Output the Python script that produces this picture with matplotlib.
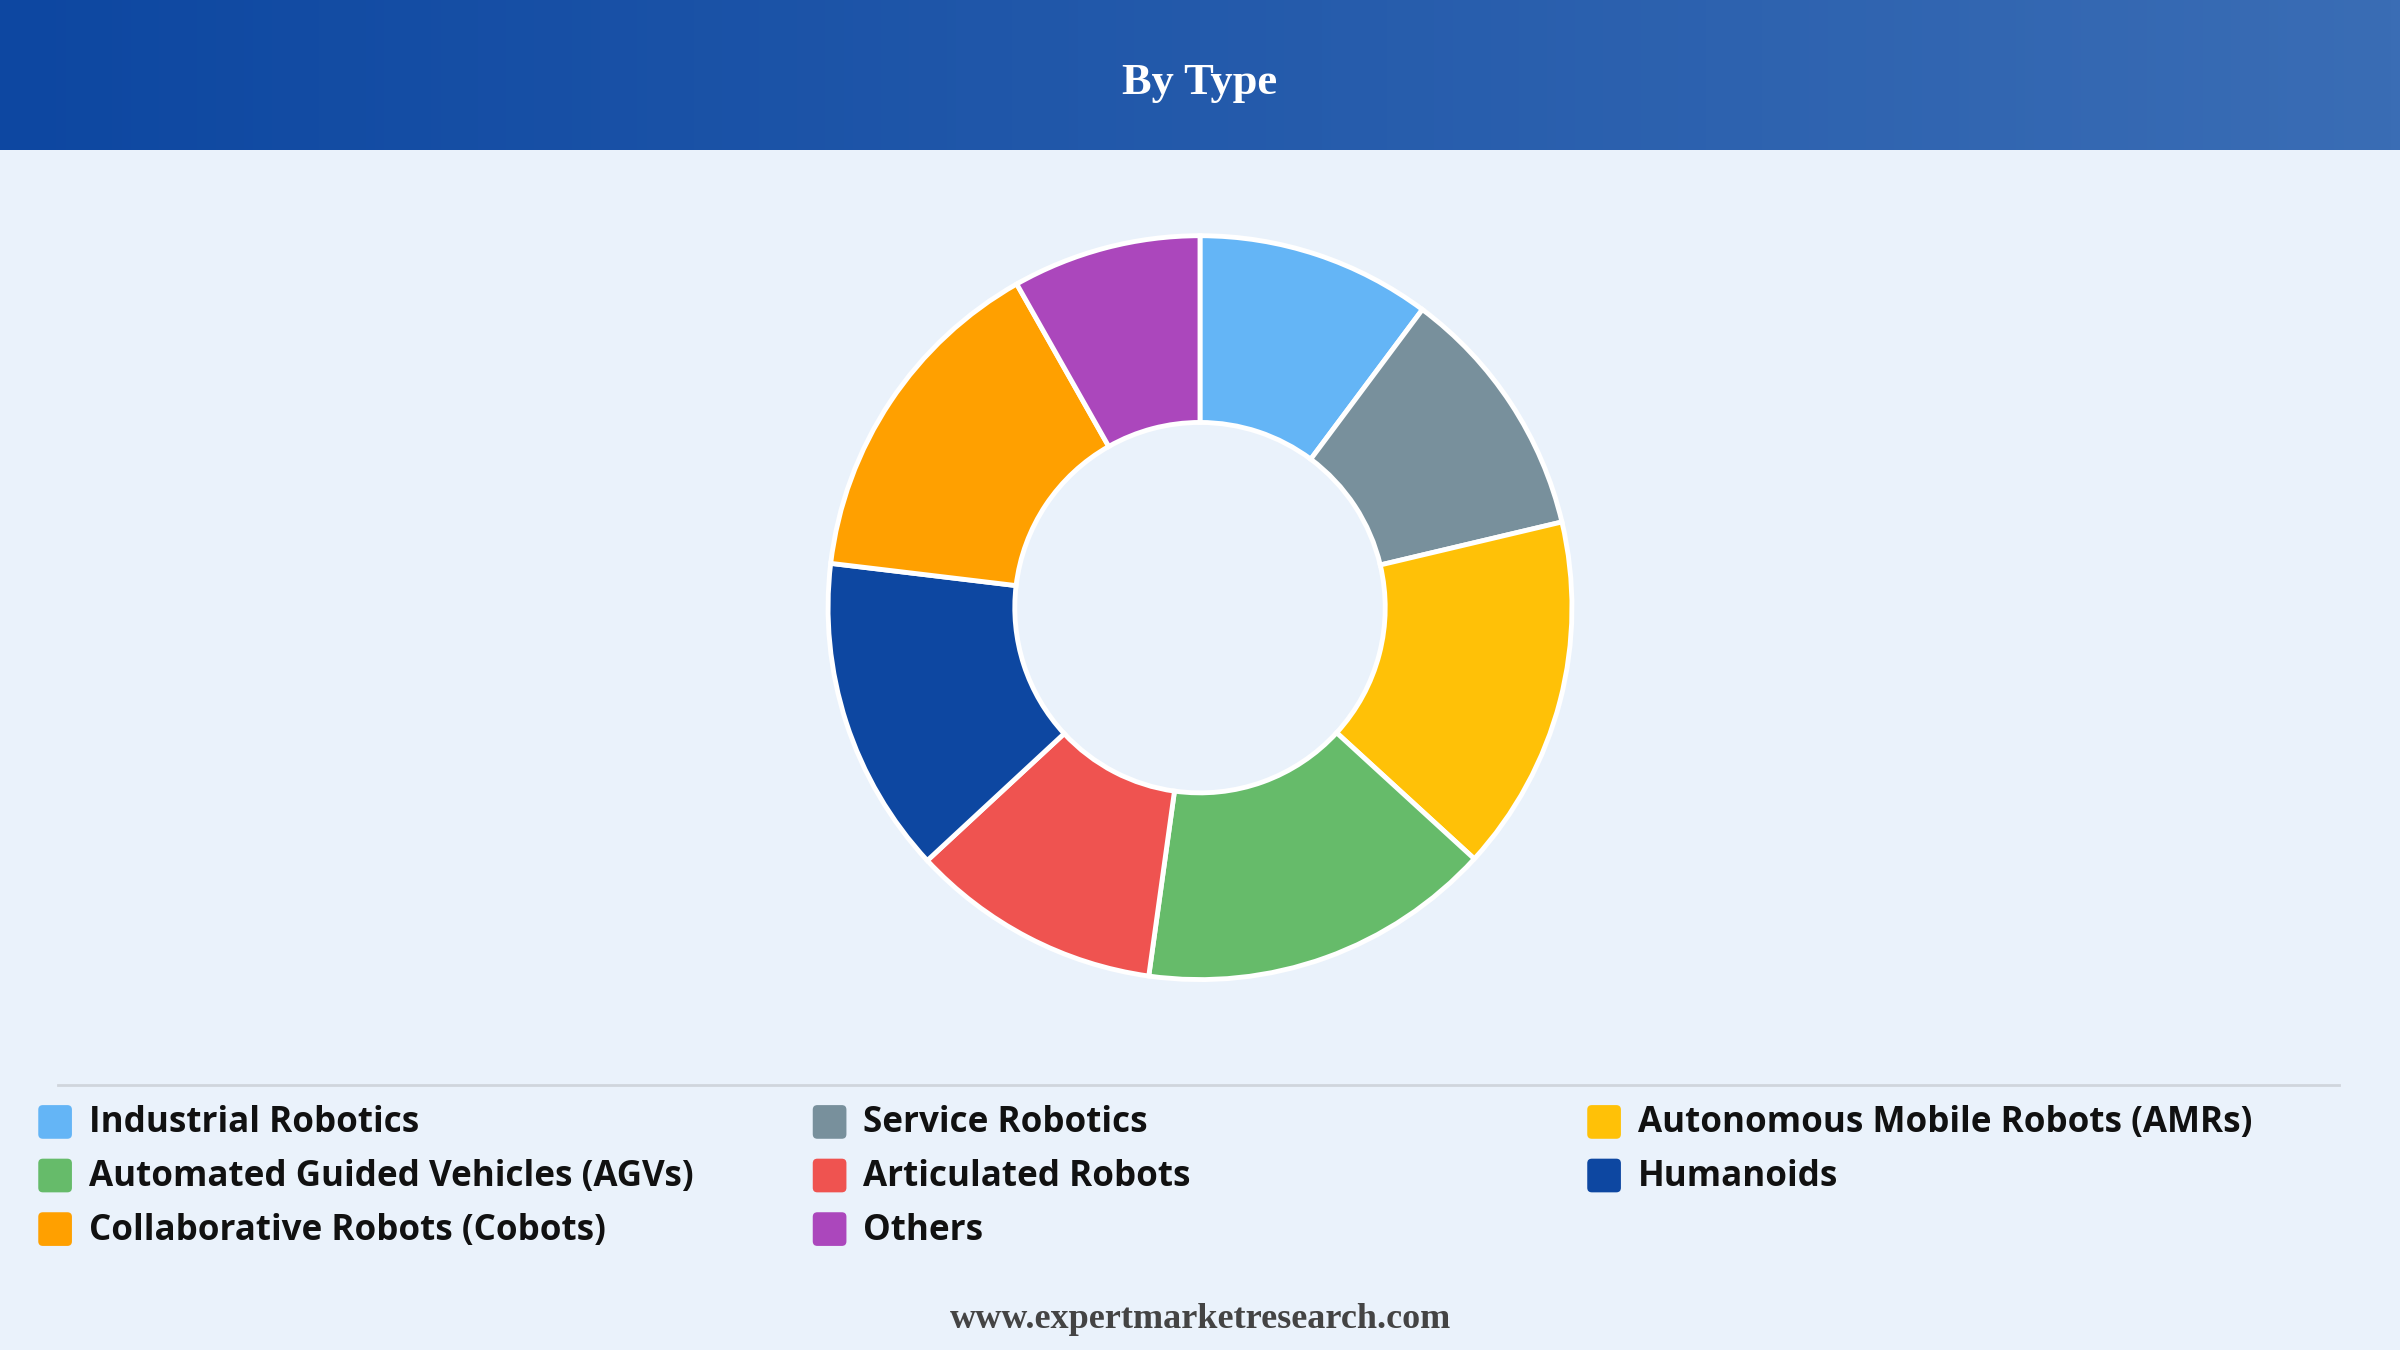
import matplotlib.pyplot as plt
import numpy as np
from matplotlib.patches import FancyBboxPatch
from matplotlib.colors import LinearSegmentedColormap

# veri
kategoriler = ["Industrial Robotics", "Service Robotics", "Autonomous Mobile Robots (AMRs)",
               "Automated Guided Vehicles (AGVs)", "Articulated Robots", "Humanoids",
               "Collaborative Robots (Cobots)", "Others"]
degerler = [10.2, 11.1, 15.5, 15.4, 10.9, 13.8, 14.9, 8.2]
renkler = ["#64b5f6", "#78909c", "#ffc107", "#66bb6a", "#ef5350", "#0d47a1", "#ffa000", "#ab47bc"]

W, H = 1568, 882
fig = plt.figure(figsize=(24, 13.5), dpi=100)
fig.patch.set_facecolor("#eaf2fb")
ax = fig.add_axes([0, 0, 1, 1])

# baslik bandi (gradient)
grad = np.linspace(0, 1, 256).reshape(1, -1)
cmap = LinearSegmentedColormap.from_list("hdr", ["#0d47a1", "#3a6db5"])
ax.imshow(grad, cmap=cmap, extent=[0, W, H - 98, H], aspect="auto", zorder=1)
ax.text(W / 2, H - 54, "By Type", color="white", fontsize=32, fontweight="bold",
        family="Liberation Serif", ha="center", va="center", zorder=2)

# donut
ax.pie(degerler, colors=renkler, startangle=90, counterclock=False,
       center=(784, H - 397), radius=243, frame=True,
       wedgeprops=dict(width=122, edgecolor="white", linewidth=3.5))
ax.set_xlim(0, W)
ax.set_ylim(0, H)
ax.axis("off")

# ayirici cizgi
ax.plot([38, 1528], [H - 709, H - 709], color="#d0d5dc", lw=2)

# legend
xs = [25, 531, 1037]
ys = [733, 768, 803]
for i, (k, r) in enumerate(zip(kategoriler, renkler)):
    x = xs[i % 3]
    y = H - ys[i // 3]
    ax.add_patch(FancyBboxPatch((x, y - 11), 22, 22, boxstyle="round,pad=0,rounding_size=3",
                                facecolor=r, edgecolor="none"))
    ax.text(x + 33, y - 1, k, fontsize=25.2, fontweight="bold", color="#111111",
            family="Open Sans", va="center", ha="left")

ax.text(W / 2, H - 862, "www.expertmarketresearch.com", fontsize=26, fontweight="bold",
        family="Liberation Serif", color="#444444", ha="center", va="center")

fig.savefig("out.png", dpi=100, facecolor=fig.get_facecolor())
